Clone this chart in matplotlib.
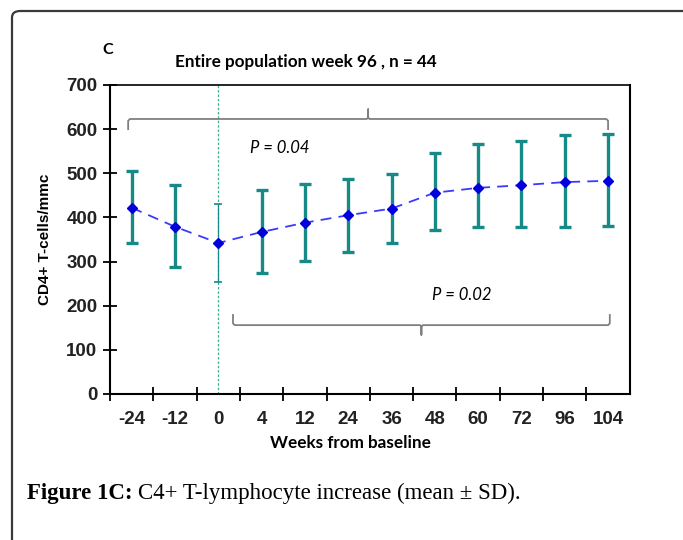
import matplotlib.pyplot as plt
from matplotlib.patches import FancyBboxPatch
import numpy as np

# ----- DATA -----
weeks = ["-24", "-12", "0", "4", "12", "24", "36", "48", "60", "72", "96", "104"]
mean_cd4 = [422, 379, 342, 367, 388, 405, 420, 456, 467, 473, 480, 483]
upper_cd4 = [505, 473, 430, 461, 475, 486, 498, 545, 566, 573, 586, 589]
lower_cd4 = [342, 288, 254, 273, 302, 322, 342, 371, 378, 378, 378, 380]

# brace spans (category index from / to, level in cells/mmc)
brace_all = (-0.08, 11.0, 623)
brace_post = (2.34, 11.04, 156)
p_all = "P = 0.04"
p_post = "P = 0.02"

TEAL = "#178a87"
BLUE = "#0000dd"
GREY = "#808080"

x = np.arange(len(weeks))
mean_cd4 = np.array(mean_cd4)
yerr = np.vstack([mean_cd4 - np.array(lower_cd4), np.array(upper_cd4) - mean_cd4])

fig = plt.figure(figsize=(6.83, 5.40), dpi=100)
ax = fig.add_axes([0.161, 0.2704, 0.761, 0.5722])

# error bars (baseline drawn thin)
thick = x != 2
ax.errorbar(x[thick], mean_cd4[thick], yerr=yerr[:, thick], fmt="none",
            ecolor=TEAL, elinewidth=2.4, capsize=4.5, capthick=2.4, zorder=2)
ax.errorbar(x[~thick], mean_cd4[~thick], yerr=yerr[:, ~thick], fmt="none",
            ecolor=TEAL, elinewidth=0.9, capsize=3, capthick=1.2, zorder=2)

# mean line
ax.plot(x, mean_cd4, color="#3a3aff", lw=1.3, dashes=(6, 4), zorder=3)
ax.plot(x, mean_cd4, "D", color=BLUE, ms=5.5, zorder=4)

# baseline marker
ax.axvline(2, color="#3cb08a", lw=0.9, ls=(0, (2, 1.5)), zorder=1)


def brace(x0, x1, y, up):
    s = 1 if up else -1
    xm = (x0 + x1) / 2
    ends = 23 * s
    tip = 22 * s
    ax.plot([x0, x0, x0 + 0.04, xm - 0.03, xm, xm, xm, xm + 0.03, x1 - 0.04, x1, x1],
            [y - ends, y - 4 * s, y, y, y + 4 * s, y + tip, y + 4 * s, y, y, y - 4 * s, y - ends],
            color=GREY, lw=1.3, solid_joinstyle="round", zorder=1)


brace(brace_all[0], brace_all[1], brace_all[2], True)
brace(brace_post[0], brace_post[1], brace_post[2], False)

ax.text(3.42, 557, p_all, style="italic", fontsize=12, family="Lato",
        ha="center", va="center")
ax.text(7.62, 224, p_post, style="italic", fontsize=12, family="Lato",
        ha="center", va="center")

# axes
ax.set_xlim(-0.5, 11.5)
ax.set_ylim(0, 700)
ax.set_yticks(range(0, 701, 100))
ax.set_xticks(x)
ax.set_xticklabels(weeks)
ax.set_xticks(np.arange(-0.5, 11.0, 1.0), minor=True)
ax.tick_params(axis="x", which="major", length=0, pad=12)
ax.tick_params(axis="x", which="minor", direction="inout", length=10, width=1.3)
ax.tick_params(axis="y", direction="inout", length=10, width=1.3, pad=4)
for lab in ax.get_xticklabels() + ax.get_yticklabels():
    lab.set_fontweight("bold")
    lab.set_fontsize(13.5)
    lab.set_family("Liberation Sans")
    lab.set_color("#222222")
for sp in ["left", "bottom"]:
    ax.spines[sp].set_linewidth(1.5)
ax.spines["top"].set_linewidth(1.2)
ax.spines["right"].set_linewidth(1.5)

ax.set_ylabel("CD4+ T-cells/mmc", fontweight="bold", fontsize=11,
              family="Liberation Sans", labelpad=10)

fig.text(350 / 683, 1 - 443 / 540, "Weeks from baseline", fontweight="bold",
         fontsize=12.3, family="Lato", ha="center", va="center")
fig.text(306 / 683, 1 - 62 / 540, "Entire population week 96 , n = 44",
         fontweight="bold", fontsize=12.3, family="Lato", ha="center", va="center")
fig.text(108 / 683, 1 - 50 / 540, "C", fontweight="bold", fontsize=11.5,
         family="Lato", ha="center", va="center")

# caption
cap1 = fig.text(27 / 683, 1 - 493 / 540, "Figure 1C:", fontweight="bold",
                fontsize=16.5, family="Liberation Serif", va="center")
renderer = fig.canvas.get_renderer()
bb = cap1.get_window_extent(renderer)
fig.text(bb.x1 / 683 + 5 / 683, 1 - 493 / 540,
         "C4+ T-lymphocyte increase (mean \u00b1 SD).",
         fontsize=16.5, family="Liberation Serif", va="center")

# outer frame
frame = FancyBboxPatch((12 / 683, -0.1), 700 / 683, 1.1 - 11 / 540,
                       boxstyle="round,pad=0,rounding_size=0.012",
                       transform=fig.transFigure, fill=False,
                       edgecolor="#3a3a3a", lw=1.6)
fig.add_artist(frame)

fig.savefig("out.png", dpi=100)
